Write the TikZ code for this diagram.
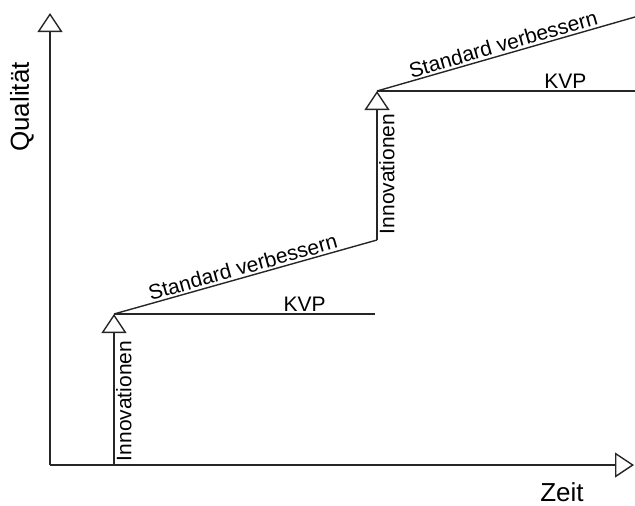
\documentclass[tikz,border=0pt]{standalone}
\usepackage{fontspec}
\setmainfont{Liberation Sans}
\usetikzlibrary{arrows.meta}
\tikzset{
  axis/.style={line width=1.4pt, draw=black!85, -{Triangle[open, length=19pt, width=25pt, line width=1.4pt]}},
  step line/.style={line width=1.4pt, draw=black!85},
  lbl/.style={font=\fontsize{21}{24}\selectfont, inner sep=2pt},
  axislbl/.style={font=\fontsize{26}{30}\selectfont, inner sep=0pt},
}
\begin{document}
\begin{tikzpicture}[x=1pt, y=-1pt]
  \useasboundingbox (0,0) rectangle (635,506);
  % axes
  \coordinate (O) at (50,465);
  \coordinate (Ytop) at (50,13);
  \coordinate (Xend) at (634,465);
  \draw[axis] (O) -- (Ytop);
  \draw[axis] (O) -- (Xend);
  \node[axislbl, rotate=90] (qual) at (22,107) {Qualität};
  \node[axislbl] (zeit) at (562,492) {Zeit};
  % first step
  \coordinate (I1b) at (114,465);
  \coordinate (I1t) at (114,314);
  \coordinate (K1e) at (375,314);
  \coordinate (I2b) at (377,240);
  \draw[axis] (I1b) -- (I1t);
  \node[lbl, rotate=90, anchor=north] (inno1) at (114,401) {Innovationen};
  \draw[step line] (I1t) -- (K1e) node[lbl, pos=0.73, above] (kvp1) {KVP};
  \draw[step line] (I1t) -- (I2b) node[lbl, midway, sloped, above] (std1) {Standard verbessern};
  % second step
  \coordinate (I2t) at (377,91);
  \coordinate (K2e) at (635,91);
  \coordinate (S2e) at (635,17);
  \draw[axis] (I2b) -- (I2t);
  \node[lbl, rotate=90, anchor=north] (inno2) at (377,174) {Innovationen};
  \draw[step line] (I2t) -- (K2e) node[lbl, pos=0.73, above] (kvp2) {KVP};
  \draw[step line] (I2t) -- (S2e) node[lbl, midway, sloped, above] (std2) {Standard verbessern};
\end{tikzpicture}
\end{document}
